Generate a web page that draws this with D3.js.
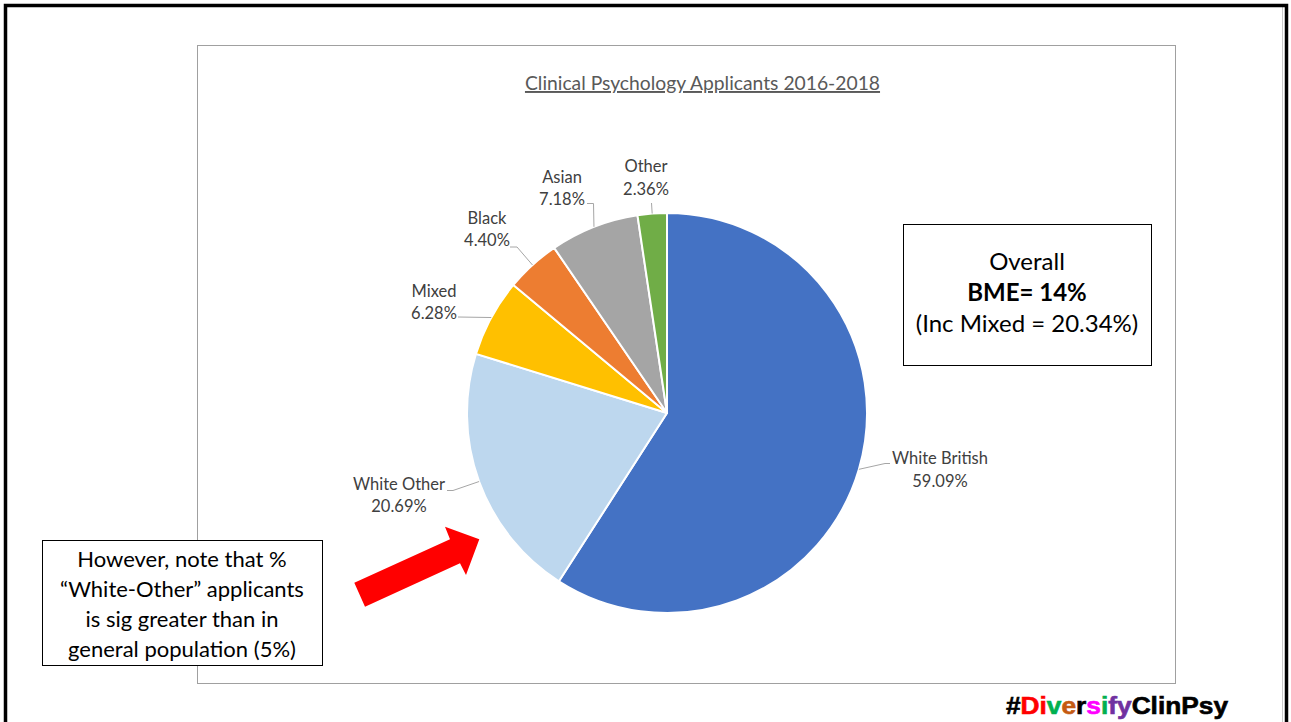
<!DOCTYPE html>
<html>
<head>
<meta charset="utf-8">
<script src="https://cdn.jsdelivr.net/npm/d3@7"></script>
<style>
  html, body { margin: 0; padding: 0; background: #fff; }
  svg { display: block; }
  .lbl { font-family: Lato, "Open Sans", sans-serif; fill: #404040; }
  .box text { font-family: Lato, "Open Sans", sans-serif; fill: #000; }
</style>
</head>
<body>
<svg id="chart" width="1291" height="722"></svg>
<script>
// Applicant ethnicity shares, percent
const categories = ["White British", "White Other", "Mixed", "Black", "Asian", "Other"];
const shares = [59.09, 20.69, 6.28, 4.40, 7.18, 2.36];
const sliceColors = ["#4472c4", "#bdd7ee", "#ffc000", "#ed7d31", "#a5a5a5", "#70ad47"];

const titleText = "Clinical Psychology Applicants 2016-2018";
const summaryLines = ["Overall", "BME= 14%", "(Inc Mixed = 20.34%)"];
const noteLines = ["However, note that %", "\u201cWhite-Other\u201d applicants", "is sig greater than in", "general population (5%)"];
const hashtagParts = [
  ["#", "#000000"], ["Di", "#ff0000"], ["v", "#00b050"], ["e", "#c55a11"],
  ["r", "#000000"], ["s", "#ff00ff"], ["i", "#00b050"], ["fy", "#7030a0"],
  ["ClinPsy", "#000000"]
];

// Label placement: text centre x, first baseline y, and leader elbow points
const labelLayout = [
  { x: 940, y: 464, elbow: [[885, 463.5], [890, 463.5]] },
  { x: 399, y: 489.5, elbow: [[453, 490.5], [447, 490.5]] },
  { x: 434, y: 296.5, elbow: [[458, 317]] },
  { x: 487, y: 223.5, elbow: [[517, 247], [510, 247]] },
  { x: 562, y: 182.5, elbow: [[593.5, 203.5], [587, 203.5]] },
  { x: 646, y: 172, elbow: [[651.5, 203]] }
];

const svg = d3.select("#chart");
const W = 1291, H = 722;

svg.append("rect").attr("width", W).attr("height", H).attr("fill", "#fff");

// Slide frame
svg.append("line").attr("x1", 1282.5).attr("x2", 1282.5).attr("y1", 7).attr("y2", H)
  .attr("stroke", "#c8c8c8").attr("stroke-width", 1);
svg.append("path")
  .attr("d", `M5.5,${H} V5.5 H1286.5 V${H}`)
  .attr("fill", "none").attr("stroke", "#000").attr("stroke-width", 3.5);

// Chart area
svg.append("rect")
  .attr("x", 197.5).attr("y", 45.5).attr("width", 978).attr("height", 638)
  .attr("fill", "#fff").attr("stroke", "#a0a0a0").attr("stroke-width", 1);

// Title
svg.append("text")
  .attr("x", 702.5).attr("y", 90)
  .attr("text-anchor", "middle")
  .attr("font-family", "Lato, 'Open Sans', sans-serif")
  .attr("font-size", 19.3)
  .attr("fill", "#595959")
  .attr("text-decoration", "underline")
  .text(titleText);

// Pie
const cx = 667, cy = 413, R = 200;
const data = categories.map((c, i) => ({ name: c, value: shares[i], color: sliceColors[i], layout: labelLayout[i] }));
const pie = d3.pie().sort(null).value(d => d.value);
const arcs = pie(data);
const arc = d3.arc().innerRadius(0).outerRadius(R);
const rim = d3.arc().innerRadius(R).outerRadius(R);

const g = svg.append("g").attr("transform", `translate(${cx},${cy})`);
g.selectAll("path.slice")
  .data(arcs)
  .join("path")
  .attr("class", "slice")
  .attr("d", arc)
  .attr("fill", d => d.data.color)
  .attr("stroke", "#fff")
  .attr("stroke-width", 2)
  .attr("stroke-linejoin", "round");

// Leader lines from the rim at each slice's mid-angle to its label
const line = d3.line();
svg.selectAll("path.leader")
  .data(arcs)
  .join("path")
  .attr("class", "leader")
  .attr("d", d => {
    const p = rim.centroid(d);
    return line([[cx + p[0], cy + p[1]], ...d.data.layout.elbow]);
  })
  .attr("fill", "none")
  .attr("stroke", "#a6a6a6")
  .attr("stroke-width", 1);

const labels = svg.selectAll("text.lbl")
  .data(arcs)
  .join("text")
  .attr("class", "lbl")
  .attr("text-anchor", "middle")
  .attr("font-size", 16.5);
labels.append("tspan")
  .attr("x", d => d.data.layout.x).attr("y", d => d.data.layout.y)
  .text(d => d.data.name);
labels.append("tspan")
  .attr("x", d => d.data.layout.x).attr("y", d => d.data.layout.y + 22.5)
  .text(d => d.data.value.toFixed(2) + "%");

// Summary box
const sb = svg.append("g").attr("class", "box");
sb.append("rect").attr("x", 903.5).attr("y", 224.5).attr("width", 248).attr("height", 141)
  .attr("fill", "#fff").attr("stroke", "#000").attr("stroke-width", 1);
sb.selectAll("text").data(summaryLines).join("text")
  .attr("x", 1027).attr("y", (d, i) => 270 + i * 31)
  .attr("text-anchor", "middle")
  .attr("font-size", 24)
  .attr("font-weight", (d, i) => i === 1 ? 700 : 400)
  .text(d => d);

// Note box
const nb = svg.append("g").attr("class", "box");
nb.append("rect").attr("x", 42.5).attr("y", 540.5).attr("width", 280).attr("height", 125)
  .attr("fill", "#fff").attr("stroke", "#000").attr("stroke-width", 1);
nb.selectAll("text").data(noteLines).join("text")
  .attr("x", 182).attr("y", (d, i) => 567 + i * 30)
  .attr("text-anchor", "middle")
  .attr("font-size", 22)
  .text(d => d);

// Red arrow pointing at the White Other slice
svg.append("polygon")
  .attr("points", [[354.3, 582.7], [450, 539.3], [445, 526.7], [479.3, 539.3], [466, 575], [460, 563.3], [365, 606.7]].map(p => p.join(",")).join(" "))
  .attr("fill", "#ff0000");

// Hashtag
const tag = svg.append("text")
  .attr("x", 1006).attr("y", 713.5)
  .attr("font-family", "'Liberation Sans', Arial, sans-serif")
  .attr("font-weight", 700)
  .attr("font-size", 23.5)
  .attr("textLength", 222)
  .attr("lengthAdjust", "spacingAndGlyphs")
  .attr("stroke-width", 0.6);
tag.selectAll("tspan").data(hashtagParts).join("tspan")
  .attr("fill", d => d[1])
  .attr("stroke", d => d[1])
  .text(d => d[0]);
</script>
</body>
</html>
